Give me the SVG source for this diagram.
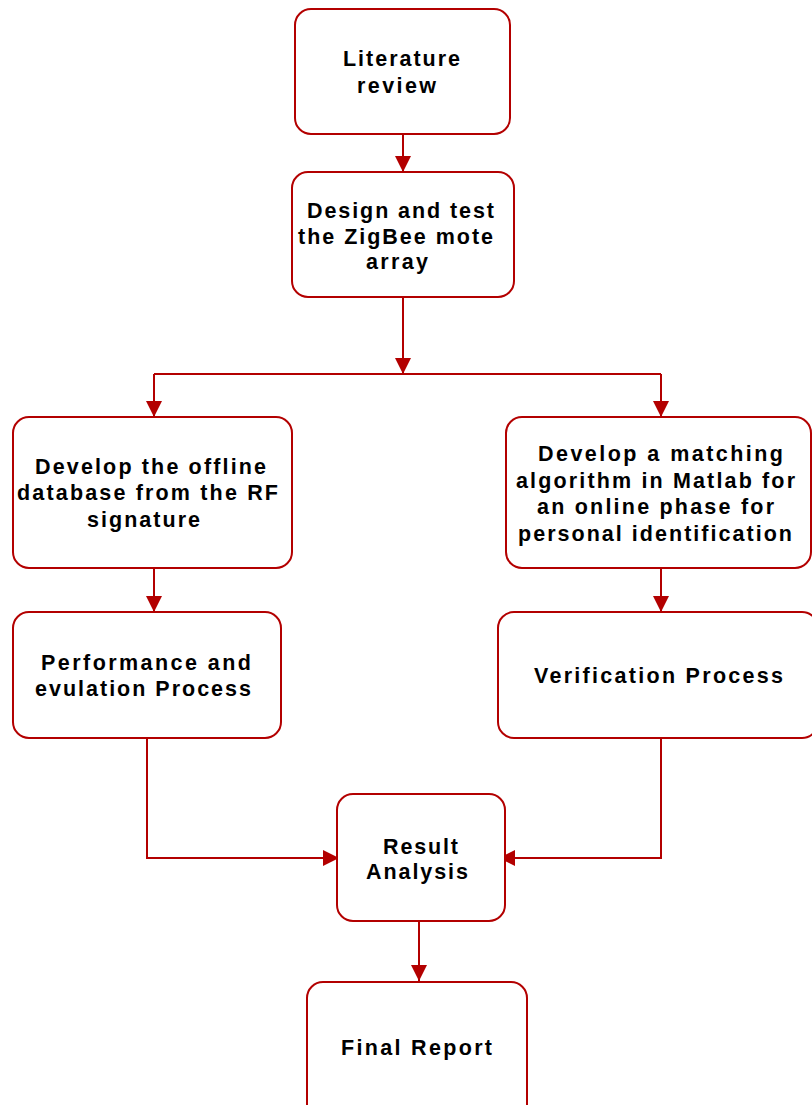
<svg xmlns="http://www.w3.org/2000/svg" width="812" height="1105" viewBox="0 0 812 1105">
<style>
.box{fill:#fff;stroke:#b30000;stroke-width:2}
.t{font-family:"Liberation Sans",Arial,sans-serif;font-weight:bold;font-size:21.5px;fill:#000}
.c{fill:none;stroke:#b30000;stroke-width:2}
</style>
<defs>
<marker id="ah" markerUnits="userSpaceOnUse" markerWidth="18" markerHeight="16" refX="16" refY="8" orient="auto" viewBox="0 0 18 16">
<path d="M0,0 L16,8 L0,16 Z" fill="#b30000"/>
</marker>
</defs>
<rect width="812" height="1105" fill="#fff"/>
<g id="connectors">
<path class="c" d="M403,134 V172" marker-end="url(#ah)"/>
<path class="c" d="M403,297 V374" marker-end="url(#ah)"/>
<path class="c" d="M154,374 H661"/>
<path class="c" d="M154,374 V417" marker-end="url(#ah)"/>
<path class="c" d="M661,374 V417" marker-end="url(#ah)"/>
<path class="c" d="M154,568 V612" marker-end="url(#ah)"/>
<path class="c" d="M661,568 V612" marker-end="url(#ah)"/>
<path class="c" d="M147,738 V858 H339" marker-end="url(#ah)"/>
<path class="c" d="M661,732 V858 H499" marker-end="url(#ah)"/>
<path class="c" d="M419,921 V981" marker-end="url(#ah)"/>
</g>
<g id="n1">
<rect class="box" x="295" y="9" width="215" height="125" rx="16"/>
<text class="t" x="343" y="66" textLength="117" lengthAdjust="spacing">Literature</text>
<text class="t" x="357" y="93" textLength="79" lengthAdjust="spacing">review</text>
</g>
<g id="n2">
<rect class="box" x="292" y="172" width="222" height="125" rx="16"/>
<text class="t" x="307" y="218" textLength="187" lengthAdjust="spacing">Design and test</text>
<text class="t" x="298" y="244" textLength="195" lengthAdjust="spacing">the ZigBee mote</text>
<text class="t" x="366" y="269" textLength="62" lengthAdjust="spacing">array</text>
</g>
<g id="n3">
<rect class="box" x="13" y="417" width="279" height="151" rx="16"/>
<text class="t" x="35" y="474" textLength="231" lengthAdjust="spacing">Develop the offline</text>
<text class="t" x="17" y="500" textLength="261" lengthAdjust="spacing">database from the RF</text>
<text class="t" x="87" y="527" textLength="113" lengthAdjust="spacing">signature</text>
</g>
<g id="n4">
<rect class="box" x="506" y="417" width="305" height="151" rx="16"/>
<text class="t" x="538" y="461" textLength="245" lengthAdjust="spacing">Develop a matching</text>
<text class="t" x="516" y="488" textLength="279" lengthAdjust="spacing">algorithm in Matlab for</text>
<text class="t" x="537" y="514" textLength="237" lengthAdjust="spacing">an online phase for</text>
<text class="t" x="518" y="541" textLength="274" lengthAdjust="spacing">personal identification</text>
</g>
<g id="n5">
<rect class="box" x="13" y="612" width="268" height="126" rx="16"/>
<text class="t" x="41" y="670" textLength="210" lengthAdjust="spacing">Performance and</text>
<text class="t" x="35" y="696" textLength="216" lengthAdjust="spacing">evulation Process</text>
</g>
<g id="n6">
<rect class="box" x="498" y="612" width="320" height="126" rx="16"/>
<text class="t" x="534" y="683" textLength="249" lengthAdjust="spacing">Verification Process</text>
</g>
<g id="n7">
<rect class="box" x="337" y="794" width="168" height="127" rx="16"/>
<text class="t" x="383" y="854" textLength="75" lengthAdjust="spacing">Result</text>
<text class="t" x="366" y="879" textLength="102" lengthAdjust="spacing">Analysis</text>
</g>
<g id="n8">
<rect class="box" x="307" y="982" width="220" height="140" rx="16"/>
<text class="t" x="341" y="1055" textLength="151" lengthAdjust="spacing">Final Report</text>
</g>
</svg>
